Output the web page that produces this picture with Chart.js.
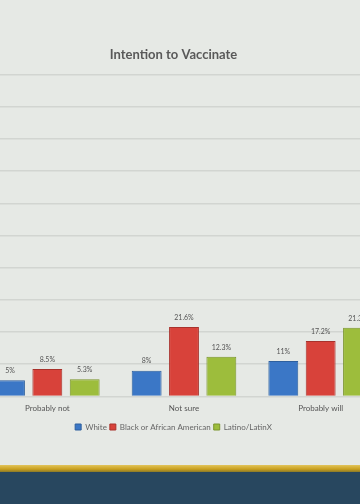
<!DOCTYPE html>
<html>
<head>
<meta charset="utf-8">
<script src="https://cdn.jsdelivr.net/npm/chart.js@4/dist/chart.umd.min.js"></script>
<style>
  body { margin: 0; background: #e6e9e5; }
  #frame { position: relative; width: 360px; height: 504px; overflow: hidden; background: #e6e9e5; }
  #box { position: absolute; left: -42px; top: 0; width: 431px; height: 441px; }
  #gold { position: absolute; left: 0; top: 465px; width: 360px; height: 7px;
          background: linear-gradient(#e2c45a, #c99f1e 60%, #8a7a2a); }
  #navy { position: absolute; left: 0; top: 472px; width: 360px; height: 32px; background: #28475f; }
</style>
</head>
<body>
<div id="frame">
  <div id="box"><canvas id="chart"></canvas></div>
  <div id="gold"></div>
  <div id="navy"></div>
</div>
<script>
const categories = ['Probably not', 'Not sure', 'Probably will'];
const white = [5, 8, 11];
const black = [8.5, 21.6, 17.2];
const latino = [5.3, 12.3, 21.3];

const barLabels = {
  id: 'barLabels',
  afterDatasetsDraw(chart) {
    const ctx = chart.ctx;
    ctx.save();
    ctx.font = '7px Lato';
    ctx.fillStyle = '#555';
    ctx.textAlign = 'center';
    ctx.textBaseline = 'bottom';
    chart.data.datasets.forEach((ds, i) => {
      chart.getDatasetMeta(i).data.forEach((bar, j) => {
        ctx.fillText(ds.data[j] + '%', bar.x, bar.y - 6);
      });
    });
    ctx.restore();
  }
};

new Chart(document.getElementById('chart'), {
  type: 'bar',
  data: {
    labels: categories,
    datasets: [{
      label: 'White',
      data: white,
      backgroundColor: '#3b77c6',
      borderColor: '#2d5f9e',
      borderWidth: 1
    },
    {
      label: 'Black or African American',
      data: black,
      backgroundColor: '#d8423a',
      borderColor: '#a8322c',
      borderWidth: 1
    },
    {
      label: 'Latino/LatinX',
      data: latino,
      backgroundColor: '#9dbd3c',
      borderColor: '#7a952c',
      borderWidth: 1
    }]
  },
  plugins: [barLabels],
  options: {
    responsive: true,
    maintainAspectRatio: false,
    animation: false,
    categoryPercentage: 0.82,
    barPercentage: 0.8,
    layout: { padding: 0 },
    scales: {
      x: {
        grid: { display: false, drawTicks: false },
        border: { display: false },
        ticks: { color: '#555', font: { family: 'Lato', size: 8 }, padding: 7 }
      },
      y: {
        min: 0,
        max: 100,
        ticks: { display: false, stepSize: 10 },
        grid: { color: '#d2d5d1', lineWidth: 1.5, drawTicks: false },
        border: { display: false },
        afterFit(scale) { scale.width = 21; }
      }
    },
    plugins: {
      title: {
        display: true,
        text: 'Intention to Vaccinate',
        color: '#595959',
        font: { family: 'Lato', size: 13, weight: 'bold' },
        padding: { top: 47, bottom: 12 }
      },
      legend: {
        position: 'bottom',
        labels: {
          boxWidth: 6,
          boxHeight: 6,
          color: '#666',
          font: { family: 'Lato', size: 8 },
          padding: 3
        }
      },
      tooltip: { enabled: false }
    }
  }
});
</script>
</body>
</html>
